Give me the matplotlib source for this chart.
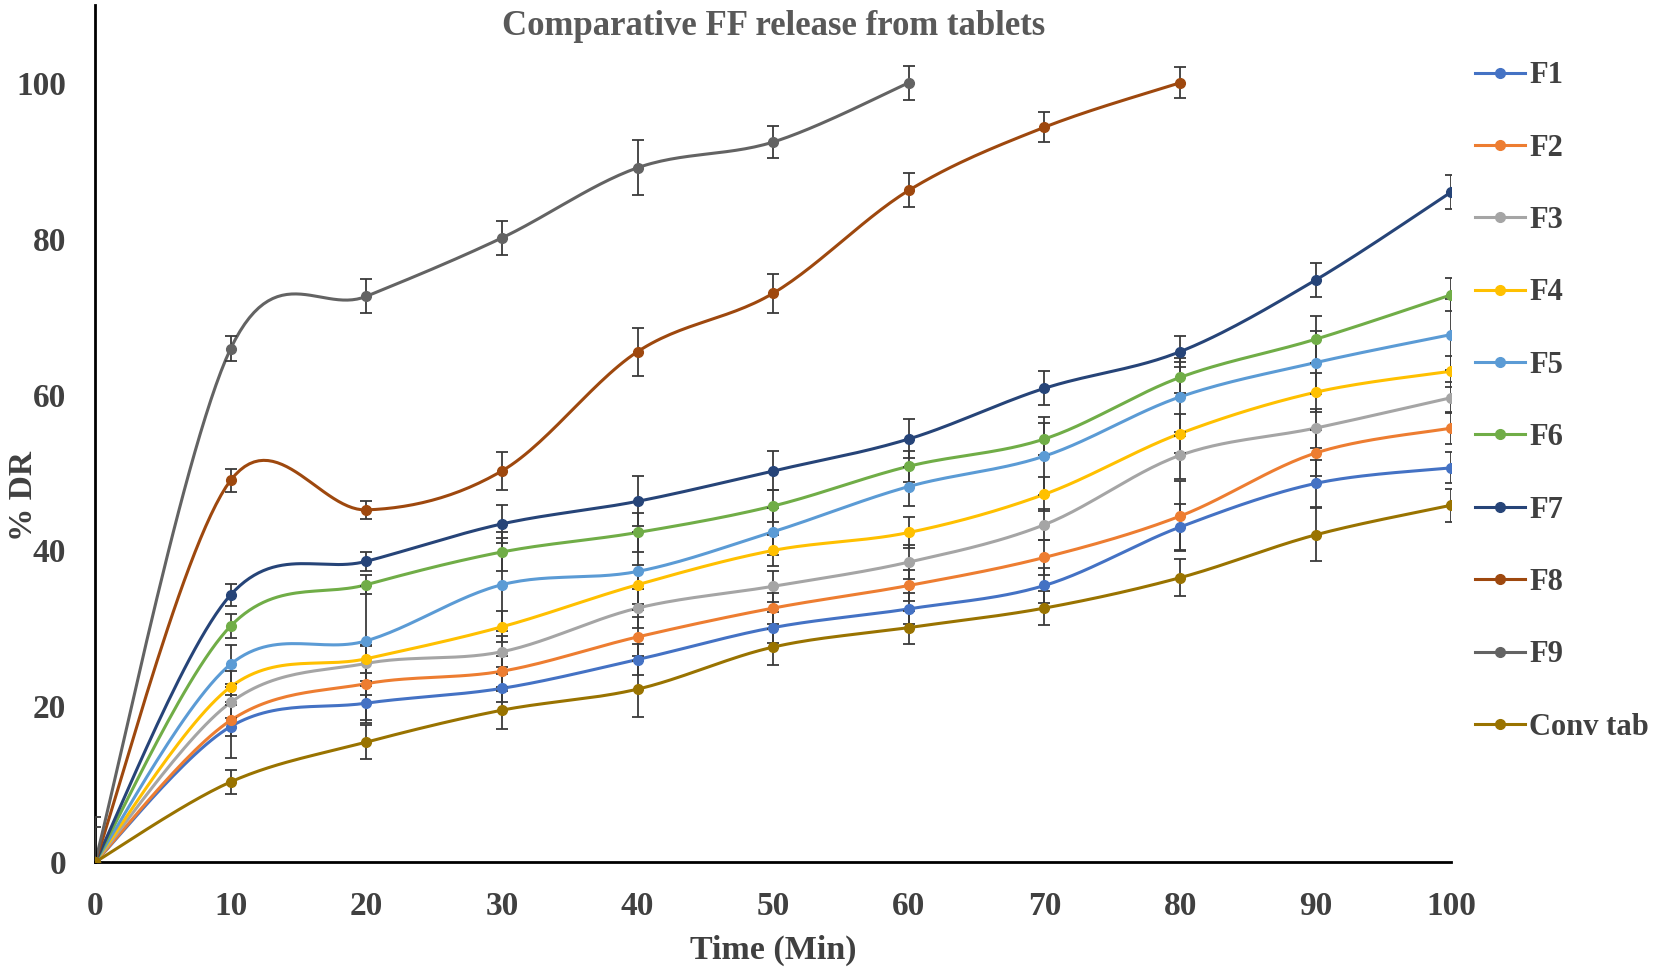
import numpy as np
import matplotlib.pyplot as plt
from matplotlib.lines import Line2D

# dissolution data (% DR)
time = [0, 10, 20, 30, 40, 50, 60, 70, 80, 90, 100]
f1 = [0, 17.4, 20.4, 22.3, 26.0, 30.1, 32.5, 35.5, 43.0, 48.6, 50.6]
f2 = [0, 18.2, 22.9, 24.5, 28.9, 32.6, 35.5, 39.1, 44.4, 52.5, 55.7]
f3 = [0, 20.5, 25.5, 27.0, 32.6, 35.4, 38.5, 43.3, 52.2, 55.7, 59.6]
f4 = [0, 22.5, 26.1, 30.2, 35.6, 40.0, 42.3, 47.2, 55.0, 60.3, 63.0]
f5 = [0, 25.4, 28.4, 35.6, 37.3, 42.4, 48.2, 52.1, 59.7, 64.1, 67.7]
f6 = [0, 30.3, 35.6, 39.8, 42.3, 45.7, 50.8, 54.3, 62.2, 67.1, 72.8]
f7 = [0, 34.3, 38.6, 43.4, 46.3, 50.2, 54.3, 60.8, 65.5, 74.7, 86.0]
f8 = [0, 49.0, 45.2, 50.2, 65.5, 73.0, 86.2, 94.3, 100.0]
f9 = [0, 65.9, 72.6, 80.1, 89.1, 92.4, 100.0]
conv = [0, 10.3, 15.4, 19.5, 22.2, 27.6, 30.1, 32.6, 36.5, 42.0, 45.8]

# standard deviations
f1_err = [5.8, 4.0, 2.2, 1.8, 2.0, 2.0, 2.0, 2.2, 3.0, 3.0, 2.0]
f2_err = [4.5, 2.0, 5.0, 2.0, 2.5, 2.0, 2.0, 2.2, 4.5, 3.0, 2.0]
f3_err = [0, 2.0, 2.2, 2.0, 2.5, 2.0, 2.2, 2.0, 3.0, 2.5, 2.0]
f4_err = [0, 2.0, 1.8, 2.0, 2.5, 2.0, 2.0, 2.2, 2.5, 2.5, 2.0]
f5_err = [0, 2.5, 7.0, 6.0, 5.0, 3.0, 2.5, 5.0, 5.0, 4.0, 4.5]
f6_err = [0, 1.6, 1.2, 2.5, 2.5, 2.0, 2.0, 2.0, 2.0, 3.0, 2.1]
f7_err = [0, 1.4, 1.2, 2.4, 3.2, 2.5, 2.5, 2.2, 2.0, 2.2, 2.2]
f8_err = [0, 1.5, 1.2, 2.4, 3.1, 2.5, 2.2, 1.9, 2.0]
f9_err = [0, 1.6, 2.2, 2.2, 3.5, 2.1, 2.2]
conv_err = [0, 1.5, 2.2, 2.4, 3.6, 2.3, 2.1, 2.2, 2.4, 3.4, 2.1]

labels = ["F1", "F2", "F3", "F4", "F5", "F6", "F7", "F8", "F9", "Conv tab"]
series = [f1, f2, f3, f4, f5, f6, f7, f8, f9, conv]
errors = [f1_err, f2_err, f3_err, f4_err, f5_err, f6_err, f7_err, f8_err, f9_err, conv_err]
colors = ["#4472C4", "#ED7D31", "#A5A5A5", "#FFC000", "#5B9BD5",
          "#70AD47", "#264478", "#9E480E", "#636363", "#997300"]


def smooth(x, y, n=30):
    # excel style smoothed line (catmull-rom bezier through the points)
    p = np.column_stack([x, y]).astype(float)
    out = []
    for i in range(len(p) - 1):
        p0 = p[max(i - 1, 0)]
        p1 = p[i]
        p2 = p[i + 1]
        p3 = p[min(i + 2, len(p) - 1)]
        c1 = p1 + (p2 - p0) / 6
        c2 = p2 - (p3 - p1) / 6
        t = np.linspace(0, 1, n)[:, None]
        seg = ((1 - t) ** 3) * p1 + 3 * ((1 - t) ** 2) * t * c1 + 3 * (1 - t) * t ** 2 * c2 + t ** 3 * p2
        out.append(seg if i == 0 else seg[1:])
    out = np.vstack(out)
    return out[:, 0], out[:, 1]


plt.rcParams['font.family'] = ['Liberation Serif', 'DejaVu Serif']
plt.rcParams['font.weight'] = 'bold'
txt = "#404040"

fig = plt.figure(figsize=(16.53, 9.72), dpi=100)
ax = fig.add_axes([0.0575, 0.113, 0.8205, 0.882])

handles = []
for lab, ys, err, col in zip(labels, series, errors, colors):
    xs = time[:len(ys)]
    sx, sy = smooth(xs, ys)
    ax.plot(sx, sy, color=col, lw=2.2, zorder=2, solid_capstyle='round')
    ax.errorbar(xs, ys, yerr=err, fmt='none', ecolor="#3a3a3a", elinewidth=1.3,
                capsize=4, capthick=1.3, zorder=3)
    ax.plot(xs, ys, 'o', color=col, ms=7, zorder=4)
    handles.append(Line2D([], [], color=col, lw=2.2, marker='o', ms=7))

ax.set_xlim(0, 100)
ax.set_ylim(0, 110)
ax.set_xticks(range(0, 101, 10))
ax.set_yticks(range(0, 101, 20))
ax.tick_params(length=0, labelsize=24, colors=txt)
ax.tick_params(axis='x', pad=21)
ax.tick_params(axis='y', pad=21)
for s in ['top', 'right']:
    ax.spines[s].set_visible(False)
for s in ['left', 'bottom']:
    ax.spines[s].set_linewidth(2.0)
    ax.spines[s].set_color('black')

fig.text(0.468, 0.973, "Comparative FF release from tablets", ha='center', va='center',
         fontsize=25, color="#595959", fontweight='bold')
fig.text(0.468, 0.022, "Time (Min)", ha='center', va='center', fontsize=24.5, color=txt)
fig.text(0.014, 0.49, "% DR", ha='center', va='center', rotation=90, fontsize=24, color=txt)

fig.legend(handles, labels, loc='upper left', bbox_to_anchor=(0.8923, 0.937),
           frameon=False, fontsize=22, labelcolor=txt, handlelength=1.63,
           handletextpad=0.15, labelspacing=1.42, borderpad=0, borderaxespad=0)

fig.savefig("out.png", dpi=100)
